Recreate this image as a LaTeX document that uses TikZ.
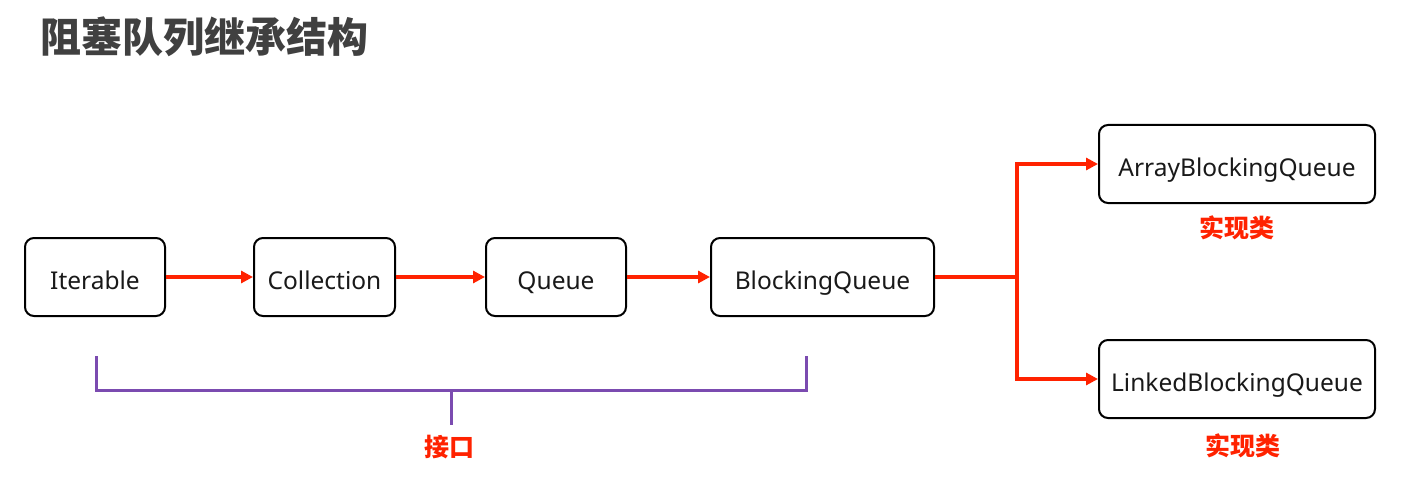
\documentclass[tikz,border=0pt]{standalone}
\usepackage{fontspec}
\setmainfont{Noto Sans}
\newfontfamily\cjk{Noto Sans CJK SC}
\usetikzlibrary{arrows.meta}
\definecolor{ared}{HTML}{FF2200}
\definecolor{brpurple}{HTML}{7B4BB0}
\definecolor{ttlgray}{HTML}{404040}
\tikzset{
  cls/.style={draw=black, line width=2pt, rounded corners=9pt, minimum height=78pt, inner sep=0pt, font=\fontsize{24.5}{28}\selectfont, text=black!90, text height=24pt, text depth=0pt},
  link/.style={draw=ared, line width=3.5pt, -{Triangle[length=12pt,width=12pt]}},
  plain/.style={draw=ared, line width=3.5pt},
  brk/.style={draw=brpurple, line width=3pt},
  redlbl/.style={text=ared, font=\cjk\bfseries\fontsize{25}{29}\selectfont},
}
\begin{document}
\begin{tikzpicture}[x=1pt,y=-1pt]
\useasboundingbox (0,0) rectangle (1421,492);
\node[anchor=west, text=ttlgray, font=\cjk\bfseries\fontsize{41}{47}\selectfont] (title) at (37,37) {阻塞队列继承结构};
\node[cls, minimum width=140pt] (it) at (95,277) {Iterable};
\node[cls, minimum width=141pt] (co) at (324.5,277) {Collection};
\node[cls, minimum width=140pt] (qu) at (556,277) {Queue};
\node[cls, minimum width=223pt] (bq) at (822.5,277) {BlockingQueue};
\node[cls, minimum width=276pt] (ab) at (1237,164) {ArrayBlockingQueue};
\node[cls, minimum width=276pt] (lb) at (1237,379) {LinkedBlockingQueue};
\node[redlbl] (l1) at (1237,228) {实现类};
\node[redlbl] (l2) at (1243,446) {实现类};
\node[redlbl] (l3) at (449,447) {接口};
\draw[link] (it.east) -- (co.west);
\draw[link] (co.east) -- (qu.west);
\draw[link] (qu.east) -- (bq.west);
\coordinate (sp) at (1017,277);
\draw[plain] (bq.east) -- (sp);
\draw[link] (sp) |- (ab.west);
\draw[link] (sp) |- (lb.west);
\coordinate (b1) at (96,356);
\coordinate (b2) at (806,356);
\coordinate (bm) at (451,390);
\coordinate (bs) at (451,425);
\draw[brk] (b1) -- (96,390) -- (806,390) -- (b2);
\draw[brk] (bm) -- (bs);
\end{tikzpicture}
\end{document}
